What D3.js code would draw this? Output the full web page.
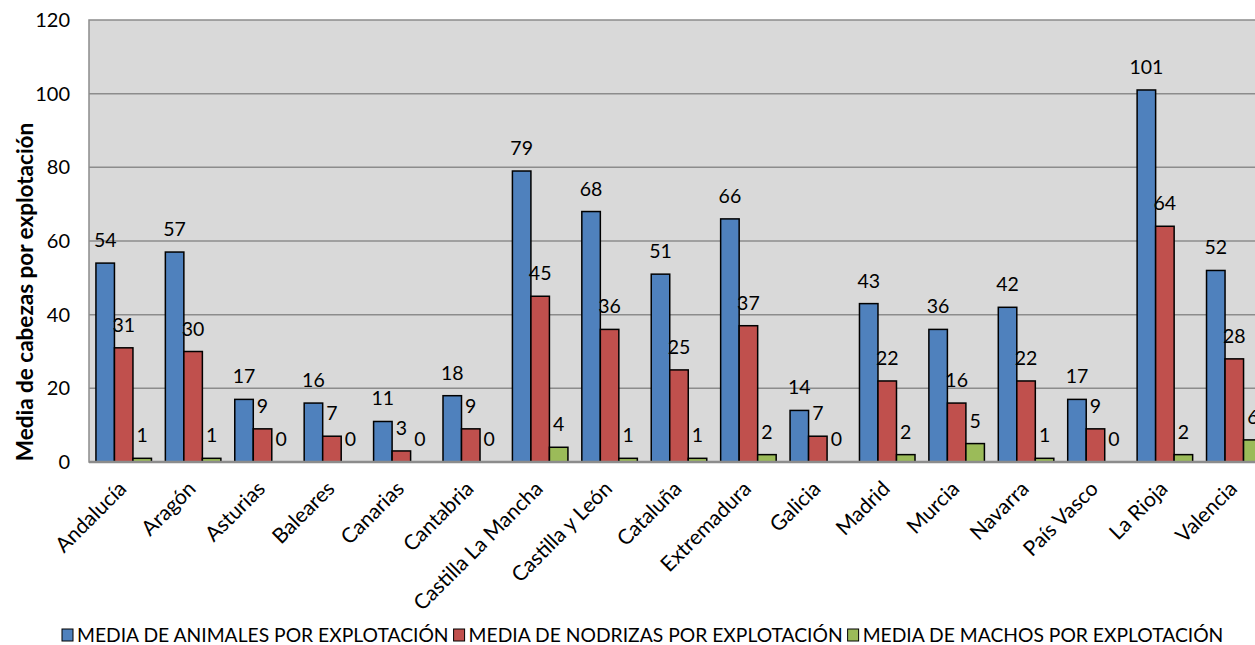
<!DOCTYPE html>
<html lang="es">
<head>
<meta charset="UTF-8">
<title>Media de cabezas por explotación</title>
<style>
    body { margin: 0; background: #fff; font-family: 'Lato', 'Noto Sans', sans-serif; }
    svg { display: block; overflow: hidden; }
</style>
</head>
<body>
<svg width="1255" height="645"></svg>
<script src="https://d3js.org/d3.v7.min.js"></script>
<script>
// data
const regiones = ['Andalucía', 'Aragón', 'Asturias', 'Baleares', 'Canarias', 'Cantabria',
    'Castilla La Mancha', 'Castilla y León', 'Cataluña', 'Extremadura', 'Galicia', 'Madrid',
    'Murcia', 'Navarra', 'País Vasco', 'La Rioja', 'Valencia'];
const animales = [54, 57, 17, 16, 11, 18, 79, 68, 51, 66, 14, 43, 36, 42, 17, 101, 52];
const nodrizas = [31, 30, 9, 7, 3, 9, 45, 36, 25, 37, 7, 22, 16, 22, 9, 64, 28];
const machos = [1, 1, 0, 0, 0, 0, 4, 1, 1, 2, 0, 2, 5, 1, 0, 2, 6];
const seriesNames = ['MEDIA DE ANIMALES POR EXPLOTACIÓN', 'MEDIA DE NODRIZAS POR EXPLOTACIÓN', 'MEDIA DE MACHOS POR EXPLOTACIÓN'];
const yTicks = [0, 20, 40, 60, 80, 100, 120];

const colors = ['#4f81bd', '#c0504d', '#9bbb59'];
const series = [animales, nodrizas, machos];

const svg = d3.select('svg');
const plotLeft = 89, plotTop = 20, plotW = 1180, plotH = 442;

const x = d3.scaleBand().domain(regiones).range([plotLeft, plotLeft + plotW]).paddingInner(0.2).paddingOuter(0.1);
const x1 = d3.scaleBand().domain([0, 1, 2]).range([0, x.bandwidth()]);
const y = d3.scaleLinear().domain([0, 120]).range([plotTop + plotH, plotTop]);

// plot background
svg.append('rect')
    .attr('x', plotLeft).attr('y', plotTop)
    .attr('width', plotW).attr('height', plotH)
    .attr('fill', '#d9d9d9')
    .attr('stroke', '#8c8c8c').attr('stroke-width', 1.5);

// grid lines
svg.append('g').selectAll('line')
    .data(yTicks.filter(d => d > 0 && d < 120))
    .join('line')
        .attr('x1', plotLeft).attr('x2', plotLeft + plotW)
        .attr('y1', d => y(d)).attr('y2', d => y(d))
        .attr('stroke', '#8c8c8c').attr('stroke-width', 1.5);

// y axis labels
svg.append('g').selectAll('text')
    .data(yTicks)
    .join('text')
        .attr('x', 70)
        .attr('y', d => y(d) + 7)
        .attr('text-anchor', 'end')
        .attr('font-size', 20)
        .attr('fill', '#000')
        .text(d => d);

// y axis title
svg.append('text')
    .attr('transform', 'translate(33,292) rotate(-90)')
    .attr('text-anchor', 'middle')
    .attr('font-size', 22.5)
    .attr('font-weight', 'bold')
    .text('Media de cabezas  por explotación');

// bars
series.forEach((vals, s) => {
    const g = svg.append('g');
    g.selectAll('rect')
        .data(vals.map((v, i) => ({ v, r: regiones[i] })).filter(d => d.v > 0))
        .join('rect')
            .attr('x', d => x(d.r) + x1(s))
            .attr('y', d => y(d.v))
            .attr('width', x1.bandwidth())
            .attr('height', d => y(0) - y(d.v))
            .attr('fill', colors[s])
            .attr('stroke', '#000').attr('stroke-width', 1.5);
    g.selectAll('text')
        .data(vals.map((v, i) => ({ v, r: regiones[i] })))
        .join('text')
            .attr('x', d => x(d.r) + x1(s) + x1.bandwidth() / 2)
            .attr('y', d => y(d.v) - 16)
            .attr('text-anchor', 'middle')
            .attr('font-size', 19.5)
            .text(d => d.v);
});

// bottom axis line
svg.append('line')
    .attr('x1', plotLeft).attr('x2', plotLeft + plotW)
    .attr('y1', y(0)).attr('y2', y(0))
    .attr('stroke', '#8c8c8c').attr('stroke-width', 2.5);

// category labels
svg.append('g').selectAll('text')
    .data(regiones)
    .join('text')
        .attr('transform', d => `translate(${x(d) + x.bandwidth() / 2 + 4},${y(0) + 28}) rotate(-45)`)
        .attr('text-anchor', 'end')
        .attr('font-size', 21)
        .text(d => d);

// legend
const legend = svg.append('g').attr('transform', 'translate(62,642)');
let lx = 0;
seriesNames.forEach((name, i) => {
    const item = legend.append('g').attr('transform', `translate(${lx},0)`);
    item.append('rect')
        .attr('x', 0).attr('y', -13)
        .attr('width', 11).attr('height', 12)
        .attr('fill', colors[i]).attr('stroke', '#000').attr('stroke-width', 1);
    const t = item.append('text')
        .attr('x', 15).attr('y', 0)
        .attr('font-size', 19.3)
        .text(name);
    lx += 15 + t.node().getComputedTextLength() + 5;
});
</script>
</body>
</html>
